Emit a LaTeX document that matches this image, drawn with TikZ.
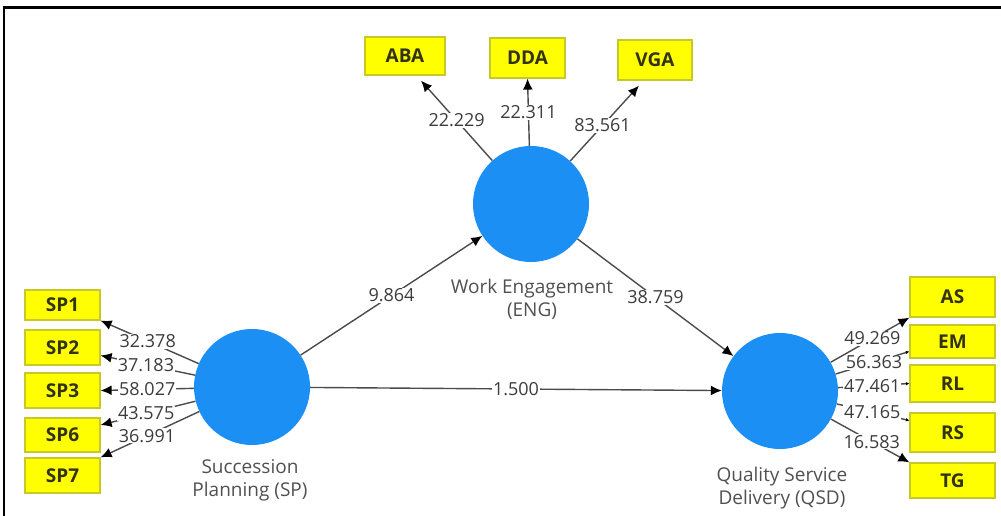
\documentclass[tikz,border=0pt]{standalone}
\usepackage{fontspec}
\setmainfont{Open Sans}
\usetikzlibrary{arrows.meta,calc}
\definecolor{lvblue}{RGB}{28,143,245}
\definecolor{boxborder}{RGB}{200,200,40}
\definecolor{boxfill}{RGB}{255,255,0}
\definecolor{boxtext}{RGB}{50,50,20}
\definecolor{linegray}{RGB}{75,75,75}
\definecolor{numgray}{RGB}{60,60,60}
\definecolor{namegray}{RGB}{80,80,80}
\tikzset{
  latent/.style={circle, fill=lvblue, draw=none, minimum size=116pt, inner sep=0pt},
  ind/.style={draw=boxborder, fill=boxfill, line width=1.2pt, text=boxtext,
    font=\bfseries\fontsize{19}{19}\selectfont, inner sep=0pt, minimum width=#1},
  ind/.default=75pt,
  link/.style={draw=linegray, line width=1.4pt, -{Latex[length=11pt,width=10pt,color=black]}},
  smalllink/.style={draw=linegray, line width=1.4pt, -{Latex[length=3.5pt,width=3.5pt,color=black]}},
  lbl/.style={fill=white, inner sep=1pt, text=numgray, font=\fontsize{18}{18}\selectfont},
  cname/.style={align=center, text=namegray, font=\fontsize{19}{23}\selectfont},
  frameline/.style={draw=black, line width=2.2pt}
}
\begin{document}
\begin{tikzpicture}[x=1pt,y=-1pt]
\useasboundingbox (0,0) rectangle (1001,516);
\draw[frameline] (4.3,516) -- (4.3,7.5) -- (1001,7.5);

% latent variables
\node[latent] (sp)  at (252,387) {};
\node[latent] (eng) at (531,204) {};
\node[latent] (qsd) at (780,391) {};

\node[cname] (spname)  at (250,480) {Succession\\Planning (SP)};
\node[cname] (engname) at (532,299) {Work Engagement\\(ENG)};
\node[cname] (qsdname) at (782,488) {Quality Service\\Delivery (QSD)};

% indicators of ENG
\node[ind=80pt, minimum height=38pt] (aba) at (405,56) {ABA};
\node[ind=75pt, minimum height=40pt] (dda) at (527.5,58) {DDA};
\node[ind=74pt, minimum height=40pt] (vga) at (655,60) {VGA};

% indicators of SP
\node[ind, minimum height=30pt] (sp1) at (62.5,305) {SP1};
\node[ind, minimum height=35pt] (sp2) at (62.5,347.5) {SP2};
\node[ind, minimum height=35pt] (sp3) at (62.5,390.5) {SP3};
\node[ind, minimum height=34pt] (sp6) at (62.5,435) {SP6};
\node[ind, minimum height=35pt] (sp7) at (62.5,475.5) {SP7};

% indicators of QSD
\node[ind=85pt, minimum height=40pt] (as) at (952.5,297) {AS};
\node[ind=85pt, minimum height=33pt] (em) at (952.5,341.5) {EM};
\node[ind=85pt, minimum height=37pt] (rl) at (952.5,383.5) {RL};
\node[ind=85pt, minimum height=39pt] (rs) at (952.5,432.5) {RS};
\node[ind=85pt, minimum height=35pt] (tg) at (952.5,480.5) {TG};

% outer loadings ENG
\coordinate (abatip) at ($(aba.south)+(16,5)$);
\coordinate (vgatip) at ($(vga.south)+(-16,5)$);
\draw[link] (eng) -- node[lbl, pos=0.5] {22.229} (abatip);
\draw[link] (eng) -- node[lbl, pos=0.5] {22.311} (dda.south);
\draw[link] (eng) -- node[lbl, pos=0.47] {83.561} (vgatip);

% outer loadings SP
\draw[link] (sp) -- node[lbl, pos=0.52] {32.378} (sp1.south east);
\draw[link] (sp) -- node[lbl, pos=0.52] {37.183} ([yshift=-8pt]sp2.east);
\draw[link] (sp) -- node[lbl, pos=0.5] {58.027} (sp3.east);
\draw[link] (sp) -- node[lbl, pos=0.52] {43.575} ([yshift=10pt]sp6.east);
\draw[link] (sp) -- node[lbl, pos=0.53] {36.991} (sp7.north east);

% outer loadings QSD
\draw[link] (qsd) -- node[lbl, pos=0.53] {49.269} (as.south west);
\draw[smalllink] (qsd) -- node[lbl, pos=0.52] {56.363} ([yshift=-10pt]em.west);
\draw[smalllink] (qsd) -- node[lbl, pos=0.48] {47.461} (rl.west);
\draw[smalllink] (qsd) -- node[lbl, pos=0.49] {47.165} ([yshift=12pt]rs.west);
\draw[link] (qsd) -- node[lbl, pos=0.52] {16.583} (tg.north west);

% structural paths
\draw[link] (sp) -- node[lbl] {9.864} (eng);
\draw[link] (eng) -- node[lbl] {38.759} (qsd);
\draw[link] (sp) -- node[lbl] {1.500} (qsd);
\end{tikzpicture}
\end{document}
